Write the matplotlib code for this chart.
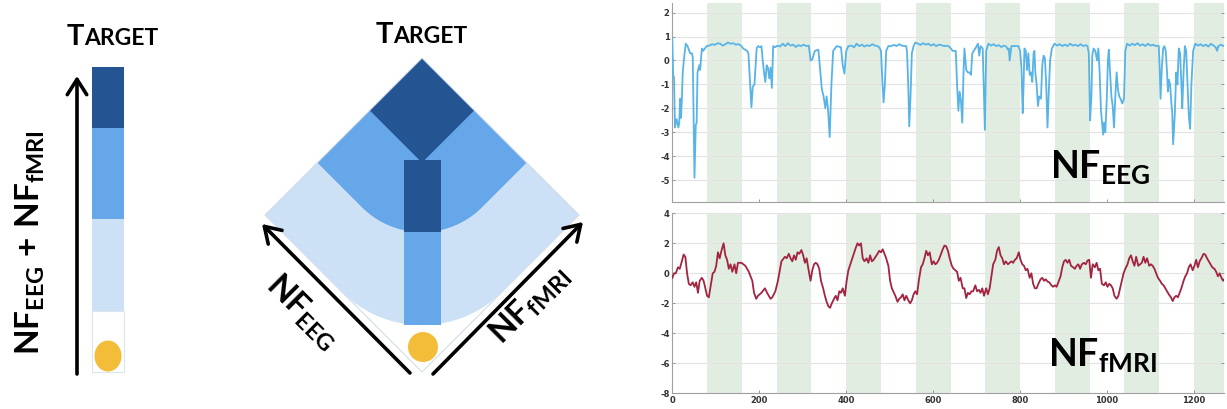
import matplotlib.pyplot as plt
import numpy as np
from matplotlib.patches import Polygon, Rectangle, Ellipse, Circle

plt.rcParams['mathtext.fontset'] = 'custom'
plt.rcParams['mathtext.bf'] = 'Lato:bold'
plt.rcParams['mathtext.rm'] = 'Lato:bold'
plt.rcParams['mathtext.it'] = 'Lato:bold'

#block design: task blocks (green shading)
band_starts = [80, 240, 400, 560, 720, 880, 1040, 1200]
band_width = 80

#EEG neurofeedback score (time, value)
eeg_pts = [(0, 0.9), (2, -0.65), (4, -0.7), (6, -2.8), (10, -2.45), (14, -2.8), (16, -2.6), (18, -1.6),
           (20, -2.4), (22, -1.6), (24, -0.5), (27, 0.1), (31, 0.7), (35, 0.6), (41, 0.3), (45, 0.3),
           (47, 0.15), (51, -4.9), (54, -2.7), (56, -2.6), (58, -0.5), (62, -0.2), (64, -0.4), (68, 0.5),
           (71, 0.4), (79, 0.6), (85, 0.62), (92, 0.68), (98, 0.65), (104, 0.72), (110, 0.7), (116, 0.62),
           (122, 0.68), (128, 0.75), (134, 0.7), (140, 0.72), (146, 0.66), (152, 0.68), (158, 0.62),
           (163, 0.5), (172, 0.4), (175, 0.3), (179, -1.0), (182, -1.95), (185, -1.1), (189, -1.0),
           (194, 0.5), (197, 0.6), (202, 0.55), (205, 0.6), (208, 0.0), (211, -0.5), (214, -0.9),
           (217, -0.2), (220, -0.3), (223, -0.75), (226, -0.3), (229, -1.15), (232, 0.6), (236, 0.55),
           (242, 0.62), (248, 0.58), (254, 0.7), (260, 0.6), (266, 0.72), (272, 0.62), (278, 0.66),
           (284, 0.56), (290, 0.64), (296, 0.6), (302, 0.66), (308, 0.6), (314, 0.62), (318, 0.0),
           (322, 0.05), (328, 0.4), (336, 0.45), (344, -1.2), (348, -1.5), (352, -2.0), (355, -1.5),
           (358, -2.0), (362, -3.2), (366, -1.0), (370, 0.4), (378, 0.6), (388, 0.55), (392, -0.2),
           (396, -0.55), (400, 0.4), (405, 0.6), (412, 0.62), (418, 0.55), (424, 0.7), (430, 0.6),
           (436, 0.66), (442, 0.58), (448, 0.64), (454, 0.6), (460, 0.68), (466, 0.62), (472, 0.6),
           (476, 0.55), (480, 0.4), (483, -0.8), (486, -1.75), (489, -1.0), (492, 0.4), (497, 0.6),
           (503, 0.6), (510, 0.65), (516, 0.6), (522, 0.68), (528, 0.62), (534, 0.6), (538, 0.6),
           (540, 0.35), (543, -1.2), (545, -2.75), (548, -1.5), (551, 0.3), (555, 0.6), (559, 0.75),
           (565, 0.7), (571, 0.65), (577, 0.72), (583, 0.66), (589, 0.7), (595, 0.62), (601, 0.68),
           (607, 0.6), (613, 0.66), (619, 0.64), (625, 0.6), (631, 0.62), (637, 0.58), (645, 0.4),
           (652, 0.4), (655, -1.0), (658, -2.1), (661, -1.3), (664, -1.7), (667, -2.6), (670, -0.4),
           (672, 0.5), (676, -0.4), (680, -0.5), (684, -0.5), (687, -0.6), (690, 0.3), (697, 0.5),
           (703, 0.7), (706, 0.2), (709, 0.6), (714, 0.5), (719, -2.9), (722, 0.4), (727, 0.7),
           (733, 0.62), (739, 0.68), (745, 0.6), (751, 0.64), (757, 0.56), (763, 0.62), (768, 0.58),
           (772, 0.45), (774, 0.5), (776, 0.0), (780, 0.6), (788, 0.6), (796, 0.6), (800, 0.4),
           (803, -0.3), (806, -2.2), (808, -1.0), (810, 0.5), (813, 0.4), (816, -0.4), (819, 0.3),
           (822, -0.6), (825, -0.5), (828, -0.9), (831, 0.3), (833, 0.4), (835, -0.5), (838, -1.0),
           (841, -1.9), (844, -1.5), (848, -1.6), (851, -0.2), (854, 0.2), (857, 0.1), (860, -1.0),
           (863, -2.8), (866, -1.3), (869, 0.0), (873, 0.5), (879, 0.7), (885, 0.62), (891, 0.68),
           (897, 0.6), (903, 0.66), (909, 0.6), (915, 0.7), (921, 0.62), (927, 0.66), (933, 0.6),
           (939, 0.68), (945, 0.6), (951, 0.64), (955, 0.6), (958, 0.3), (961, -2.5), (964, -1.5),
           (966, 0.2), (969, 0.5), (973, 0.4), (977, 0.0), (980, 0.5), (983, -0.5), (986, -2.1),
           (988, -2.5), (991, -3.1), (993, -2.6), (996, -3.0), (999, -1.8), (1002, 0.0), (1004, 0.45),
           (1007, -0.5), (1010, -1.5), (1013, -1.9), (1016, -2.8), (1019, -1.5), (1022, -0.5),
           (1025, -1.2), (1028, -1.5), (1031, -1.6), (1035, -1.8), (1039, -1.6), (1042, 0.4),
           (1046, 0.7), (1052, 0.62), (1058, 0.7), (1064, 0.64), (1070, 0.72), (1076, 0.62),
           (1082, 0.68), (1088, 0.6), (1094, 0.7), (1100, 0.62), (1106, 0.66), (1112, 0.6),
           (1116, 0.62), (1119, 0.6), (1121, -0.3), (1123, -1.6), (1126, -0.3), (1129, 0.5),
           (1132, 0.6), (1135, 0.4), (1138, -0.5), (1140, -1.3), (1142, -0.8), (1145, -1.0),
           (1148, -1.8), (1150, -2.2), (1152, -3.5), (1156, -2.2), (1159, -0.5), (1162, -1.0),
           (1165, 0.5), (1168, 0.3), (1171, -1.0), (1173, -2.0), (1176, -0.5), (1179, 0.6),
           (1182, 0.4), (1185, -1.0), (1188, -2.3), (1191, -2.85), (1194, -1.0), (1198, 0.4),
           (1203, 0.7), (1209, 0.62), (1215, 0.68), (1221, 0.6), (1227, 0.66), (1233, 0.58),
           (1239, 0.7), (1245, 0.62), (1250, 0.55), (1253, 0.4), (1256, 0.6), (1262, 0.66),
           (1268, 0.6), (1274, 0.64)]

#fMRI neurofeedback score (time, value)
fmri_pts = [(0, -0.3), (4, 0.0), (8, 0.0), (13, 0.4), (17, 0.3), (22, 0.8), (26, 1.25), (30, 1.1),
            (34, 0.0), (38, -0.7), (42, -0.8), (47, -0.6), (51, -0.9), (55, -0.6), (59, -1.3), (63, -0.5),
            (68, -0.3), (72, -0.5), (76, -1.0), (80, -1.5), (84, -1.6), (88, -0.9), (93, 0.0), (97, 0.1),
            (101, 0.5), (105, 1.4), (109, 1.0), (113, 1.5), (118, 2.0), (122, 1.2), (126, 0.9), (130, 0.3),
            (134, 0.6), (138, 0.1), (143, 0.6), (147, 0.0), (151, 0.7), (159, 0.7), (168, 0.5), (176, 0.1),
            (184, -0.5), (188, -1.3), (193, -1.7), (197, -1.5), (205, -1.3), (213, -1.0), (218, -1.3),
            (226, -1.7), (230, -1.6), (237, -1.2), (243, -0.5), (251, 0.8), (259, 1.1), (263, 1.0),
            (268, 1.3), (272, 1.0), (276, 0.8), (280, 1.2), (284, 0.9), (288, 1.4), (292, 1.3),
            (297, 1.55), (301, 1.2), (305, 0.7), (309, 1.0), (313, 0.3), (318, -0.5), (322, 0.2),
            (326, 0.6), (330, 0.7), (334, 0.6), (338, 0.3), (342, -0.5), (347, -1.0), (351, -1.5),
            (355, -1.9), (359, -2.2), (363, -2.3), (367, -2.0), (372, -1.7), (376, -1.5), (380, -1.8),
            (384, -1.2), (388, -1.3), (392, -1.0), (397, -1.5), (401, -0.5), (405, 0.2), (413, 0.9),
            (422, 1.7), (426, 2.0), (430, 1.85), (434, 2.0), (438, 1.0), (442, 0.8), (447, 1.0),
            (451, 0.7), (455, 1.2), (459, 0.8), (463, 0.9), (472, 1.3), (476, 1.5), (480, 1.4),
            (484, 1.6), (488, 1.3), (492, 1.0), (497, 0.5), (501, -0.5), (505, -1.0), (513, -1.5),
            (518, -1.9), (522, -1.7), (526, -1.6), (530, -1.4), (534, -1.8), (538, -1.5), (543, -1.8),
            (547, -2.0), (551, -1.8), (555, -1.4), (559, -1.2), (563, -1.4), (567, -0.5), (572, 0.4),
            (576, 0.6), (580, 1.0), (584, 1.5), (588, 1.2), (592, 1.4), (597, 0.6), (601, 0.8),
            (605, 0.6), (609, 0.7), (613, 0.9), (617, 1.2), (622, 1.6), (626, 1.85), (630, 1.8),
            (634, 1.5), (638, 1.0), (643, 0.5), (647, 0.3), (651, 0.2), (655, 0.1), (659, -0.5),
            (663, -0.3), (668, -1.0), (672, -1.0), (676, -1.65), (680, -1.3), (684, -1.4), (688, -1.2),
            (692, -1.2), (697, -0.8), (701, -1.2), (705, -1.1), (709, -1.3), (713, -1.0), (717, -1.5),
            (722, -1.0), (726, -1.4), (730, -1.0), (734, -0.2), (738, 0.6), (743, 0.9), (747, 1.5),
            (751, 1.75), (755, 1.2), (759, 1.0), (763, 0.6), (767, 0.8), (772, 0.6), (776, 0.7),
            (780, 0.8), (784, 0.7), (788, 0.9), (792, 1.0), (797, 1.4), (801, 0.9), (805, 0.6),
            (809, 0.5), (813, 0.2), (817, 0.3), (822, -0.3), (826, 0.0), (830, -0.7), (834, -1.0),
            (838, -1.0), (842, -0.7), (847, -0.4), (851, -0.3), (855, -0.5), (859, -0.4), (863, -0.55),
            (867, -0.6), (872, -0.8), (876, -0.9), (880, -0.8), (884, -0.9), (888, -0.6), (893, -0.2),
            (897, 0.4), (901, 0.8), (905, 0.9), (909, 0.7), (913, 0.9), (917, 0.5), (922, 0.4),
            (926, 0.3), (930, 0.5), (934, 0.6), (938, 0.3), (942, 0.6), (947, 0.7), (951, 0.6),
            (955, 0.85), (959, 0.9), (963, -0.3), (967, 0.6), (972, 0.4), (976, 0.7), (980, 0.2),
            (984, 0.3), (988, -0.7), (993, -0.8), (997, -0.6), (1001, -0.9), (1005, -0.7), (1009, -0.8),
            (1013, -1.0), (1017, -1.5), (1022, -1.7), (1026, -1.5), (1030, -1.0), (1034, -0.5),
            (1038, 0.0), (1042, 0.3), (1047, 0.6), (1051, 1.0), (1055, 1.2), (1059, 0.8), (1063, 0.5),
            (1067, 1.1), (1072, 0.5), (1076, 0.6), (1080, 0.7), (1084, 1.1), (1088, 0.7), (1092, 1.0),
            (1097, 0.5), (1101, 0.6), (1105, 0.5), (1109, 0.3), (1113, 0.0), (1117, -0.3), (1122, -0.5),
            (1126, -0.7), (1130, -0.8), (1134, -1.0), (1138, -1.2), (1142, -1.4), (1147, -1.6),
            (1151, -1.85), (1155, -1.6), (1159, -1.5), (1163, -1.6), (1167, -1.3), (1172, -0.9),
            (1176, -0.5), (1180, -0.2), (1184, 0.0), (1188, 0.4), (1192, 0.6), (1197, 0.2), (1201, 0.5),
            (1205, 0.9), (1209, 0.4), (1213, 0.8), (1217, 1.0), (1222, 1.3), (1226, 1.25), (1230, 1.0),
            (1234, 0.8), (1238, 0.6), (1242, 0.4), (1247, 0.3), (1251, 0.1), (1255, -0.2), (1259, 0.0),
            (1263, -0.3), (1267, -0.5), (1272, -0.3), (1276, -0.6)]

eeg_t, eeg_v = zip(*eeg_pts)
fmri_t, fmri_v = zip(*fmri_pts)

x_ticks = [0, 200, 400, 600, 800, 1000, 1200]
eeg_yticks = [-5, -4, -3, -2, -1, 0, 1, 2]
fmri_yticks = [-8, -6, -4, -2, 0, 2, 4]

#colours
dark = '#245492'
mid = '#66A7E9'
light = '#CCE1F6'
yellow = '#F3BD3A'

W, H = 1227, 409
fig = plt.figure(figsize=(W / 100, H / 100), dpi=100)

#time series panels
x0, x1 = 672.3, 1224
ax1 = fig.add_axes([x0 / W, 1 - 201.7 / H, (x1 - x0) / W, (201.7 - 3) / H])
ax2 = fig.add_axes([x0 / W, 1 - 393.3 / H, (x1 - x0) / W, 180 / H])

for ax, t, v, col, yt in [(ax1, eeg_t, eeg_v, '#58B3E6', eeg_yticks),
                          (ax2, fmri_t, fmri_v, '#A32340', fmri_yticks)]:
    for s in band_starts:
        ax.axvspan(s, s + band_width, color='#E2EDE2', lw=0, zorder=0.2)
    ax.plot(t, v, color=col, lw=1.3, zorder=3)
    ax.set_xlim(0, 1269)
    ax.set_xticks(x_ticks, labels=[str(x) for x in x_ticks], fontweight='bold')
    ax.set_yticks(yt, labels=[str(y) for y in yt], fontweight='bold')
    ax.grid(axis='y', color='#E3E3E3', lw=0.8)
    ax.set_axisbelow(True)
    for sp in ['top', 'right']:
        ax.spines[sp].set_visible(False)
    for sp in ['left', 'bottom']:
        ax.spines[sp].set_color('#A0A0A0')
        ax.spines[sp].set_linewidth(0.8)
    ax.tick_params(direction='in', length=2.5, width=0.6, color='#888888',
                   labelcolor='#333333', labelsize=6, pad=2, right=True)

ax1.set_ylim(-5.9, 2.4)
ax1.tick_params(labelbottom=False)
ax2.set_ylim(-8, 4)

#overlay in pixel coordinates for the schematics
ov = fig.add_axes([0, 0, 1, 1], zorder=10)
ov.set_xlim(0, W)
ov.set_ylim(H, 0)
ov.axis('off')
ov.patch.set_alpha(0)

label_kw = dict(color='black', ha='center', va='center', rotation_mode='anchor')
arrow_kw = dict(arrowstyle='->,head_length=0.55,head_width=0.35', lw=2.6,
                color='black', shrinkA=0, shrinkB=0, mutation_scale=20)

#panel 1: single bar
bx, bw = 92, 32
for top, bot, c in [(67, 128, dark), (128, 219, mid), (219, 311, light)]:
    ov.add_patch(Rectangle((bx, top), bw, bot - top, fc=c, ec='none'))
ov.add_patch(Rectangle((bx, 311), bw, 61, fc='white', ec='#DCE4EE', lw=0.8))
ov.add_patch(Ellipse((108, 356), 27, 31, fc=yellow, ec='none'))
ov.annotate('', xy=(77, 76), xytext=(77, 374), arrowprops=arrow_kw)
ov.text(30, 243, r'$\mathbf{NF}_{\mathbf{EEG}}\ \mathbf{+}\ \mathbf{NF}_{\mathbf{fMRI}}$',
        fontsize=24, rotation=90, **label_kw)

for tx, ty in [(84, 45), (393, 43)]:
    ov.text(tx, ty, 'T', fontsize=21, fontweight='bold', family='Lato', ha='right', va='baseline')
    ov.text(tx, ty, 'ARGET', fontsize=16.5, fontweight='bold', family='Lato', ha='left', va='baseline')

#panel 2: diamond, e = EEG axis, f = fMRI axis
S, cx, by = 157.0, 422.0, 372.0


def dpx(e, f):
    return cx + (f - e), by - (e + f)


def region(t, r, n=40):
    pts = [(S, t)]
    if r > 0:
        ang = np.linspace(-np.pi / 2, -np.pi, n)
        for a in ang:
            pts.append((t + r + r * np.cos(a), t + r + r * np.sin(a)))
    else:
        pts.append((t, t))
    pts += [(t, S), (S, S)]
    return [dpx(e, f) for e, f in pts]


ov.add_patch(Polygon(region(0, 80), closed=True, fc=light, ec='none'))
ov.add_patch(Polygon(region(S / 3, 60), closed=True, fc=mid, ec='none'))
ov.add_patch(Rectangle((403.5, 232), 37, 93, fc=mid, ec='none'))
ov.add_patch(Polygon(region(2 * S / 3, 0), closed=True, fc=dark, ec='none'))
ov.add_patch(Rectangle((403.5, 160), 37, 72, fc=dark, ec='none'))
ov.add_patch(Polygon([dpx(0, 0), dpx(S, 0), dpx(S, S), dpx(0, S)], closed=True,
                     fc='none', ec='#D3DDEA', lw=0.8))
ov.add_patch(Circle((423, 347), 15, fc=yellow, ec='none'))

for tip, tail in [((262, 224), (410, 373)), ((583, 222), (433, 374))]:
    ov.annotate('', xy=tip, xytext=tail, arrowprops=arrow_kw)

ov.text(302, 312, r'$\mathbf{NF}_{\mathbf{EEG}}$', fontsize=24, rotation=-45, **label_kw)
ov.text(530, 305, r'$\mathbf{NF}_{\mathbf{fMRI}}$', fontsize=24, rotation=45, **label_kw)

#labels on the time series
ov.text(1050, 178, r'$\mathbf{NF}_{\mathbf{EEG}}$', fontsize=27, ha='left', va='baseline')
ov.text(1048, 366, r'$\mathbf{NF}_{\mathbf{fMRI}}$', fontsize=27, ha='left', va='baseline')

fig.savefig('out.png', dpi=100)
